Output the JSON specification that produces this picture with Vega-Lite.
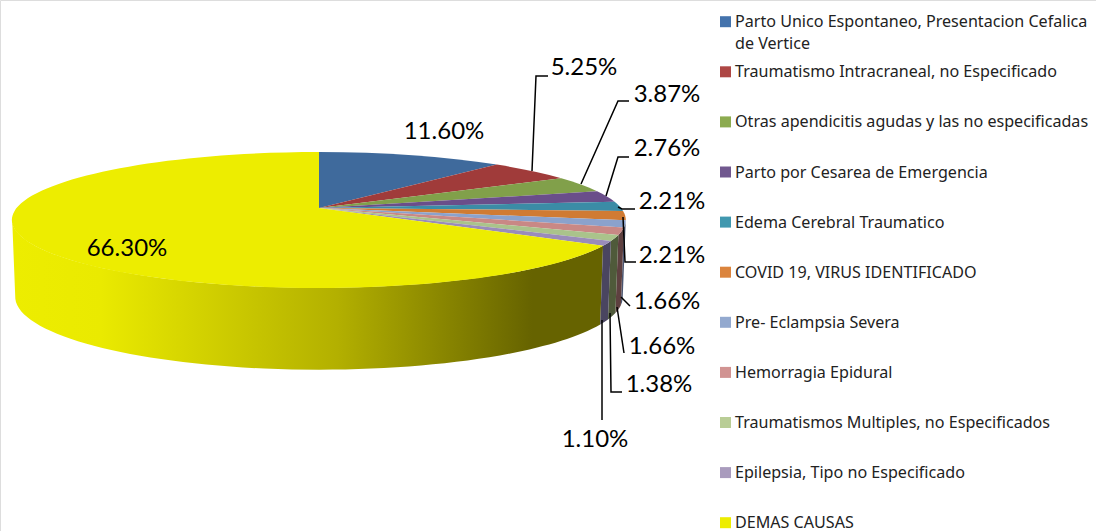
{
"$schema":"https://vega.github.io/schema/vega-lite/v6.json",
"width":1096,"height":531,"padding":0,"autosize":{"type":"none"},"background":"white",
"data":{"values":[
{"cause":"Parto Unico Espontaneo, Presentacion Cefalica de Vertice","value":11.60},
{"cause":"Traumatismo Intracraneal, no Especificado","value":5.25},
{"cause":"Otras apendicitis agudas y las no especificadas","value":3.87},
{"cause":"Parto por Cesarea de Emergencia","value":2.76},
{"cause":"Edema Cerebral Traumatico","value":2.21},
{"cause":"COVID 19, VIRUS IDENTIFICADO","value":2.21},
{"cause":"Pre- Eclampsia Severa","value":1.66},
{"cause":"Hemorragia Epidural","value":1.66},
{"cause":"Traumatismos Multiples, no Especificados","value":1.38},
{"cause":"Epilepsia, Tipo no Especificado","value":1.10},
{"cause":"DEMAS CAUSAS","value":66.30}
]},
"transform":[
{"window":[{"op":"row_number","as":"i"},{"op":"sum","field":"value","as":"cum"}]},
{"joinaggregate":[{"op":"sum","field":"value","as":"total"}]},
{"calculate":"(datum.cum-datum.value)/datum.total*2*PI","as":"a0"},
{"calculate":"datum.cum/datum.total*2*PI","as":"a1"},
{"calculate":"1+0.1765*cos(datum.a0)","as":"w0"},
{"calculate":"1+0.1765*cos(datum.a1)","as":"w1"},
{"calculate":"'M319,208L'+format(319+302*sin(datum.a0)/datum.w0,'.2f')+','+format(208-65.9*cos(datum.a0)/datum.w0,'.2f')+'A307,68 0 '+(datum.a1-datum.a0>PI?1:0)+' 1 '+format(319+302*sin(datum.a1)/datum.w1,'.2f')+','+format(208-65.9*cos(datum.a1)/datum.w1,'.2f')+'Z'","as":"slicePath"},
{"calculate":"max(datum.a0,1.772)","as":"ta"},
{"calculate":"min(datum.a1,4.511)","as":"tb"},
{"calculate":"1+0.1765*cos(datum.ta)","as":"wa"},
{"calculate":"1+0.1765*cos(datum.tb)","as":"wb"},
{"calculate":"'M'+format(319+302*sin(datum.ta)/datum.wa,'.2f')+','+format(208-65.9*cos(datum.ta)/datum.wa,'.2f')+'A307,68 0 0 1 '+format(319+302*sin(datum.tb)/datum.wb,'.2f')+','+format(208-65.9*cos(datum.tb)/datum.wb,'.2f')+'L'+format(319+299*sin(datum.tb)/datum.wb,'.2f')+','+format(284.1-70.7*cos(datum.tb)/datum.wb,'.2f')+'A304,73 0 0 0 '+format(319+299*sin(datum.ta)/datum.wa,'.2f')+','+format(284.1-70.7*cos(datum.ta)/datum.wa,'.2f')+'Z'","as":"wallPath"},
{"calculate":"['','M532,171L536,76L548,76','M581,184L618,101L629,101','M606,196L618,157L629,157','M618,207L622,209L635,209','M623,217L625,262L636,262','M621,297L630,306','M617,307L624,353','M610,313L611,392L622,392','M602,320L602,420',''][datum.i-1]","as":"leader"},
{"calculate":"[444,584,667,667,672,672,667,662,659,595,127][datum.i-1]","as":"labelX"},
{"calculate":"[132,68,95,149,202,256,302,347,385,440,249][datum.i-1]","as":"labelY"},
{"calculate":"21.7+50.1*(datum.i-1)","as":"legendY"},
{"calculate":"format(datum.value/100,'.2%')","as":"pct"},
{"calculate":"replace(datum.cause,' de Vertice','\\nde Vertice')","as":"legendText"}
],
"resolve":{"scale":{"color":"independent"}},
"layer":[
{"transform":[{"filter":"datum.i==11"}],
 "mark":{"type":"point","filled":true,"opacity":1,"size":4,"strokeWidth":0,"fill":{"x1":0,"x2":1,"y1":0,"y2":0,"gradient":"linear","stops":[{"offset":0,"color":"#EDED00"},{"offset":0.15,"color":"#EAEA00"},{"offset":0.55,"color":"#B3B000"},{"offset":0.88,"color":"#666300"},{"offset":1,"color":"#666300"}]}},
 "encoding":{"x":{"datum":0,"type":"quantitative","axis":null,"scale":{"domain":[0,1096],"range":[0,1096]}},"y":{"datum":0,"type":"quantitative","axis":null,"scale":{"domain":[0,531],"range":[0,531]}},"shape":{"field":"wallPath","type":"nominal","scale":null,"legend":null}}},
{"transform":[{"filter":"datum.i<11 && datum.a1>1.772"}],
 "mark":{"type":"point","filled":true,"opacity":1,"size":4,"strokeWidth":0},
 "encoding":{"x":{"datum":0,"type":"quantitative","axis":null,"scale":{"domain":[0,1096],"range":[0,1096]}},"y":{"datum":0,"type":"quantitative","axis":null,"scale":{"domain":[0,531],"range":[0,531]}},"shape":{"field":"wallPath","type":"nominal","scale":null,"legend":null},
 "color":{"field":"cause","type":"nominal","legend":null,"scale":{"domain":["COVID 19, VIRUS IDENTIFICADO","Pre- Eclampsia Severa","Hemorragia Epidural","Traumatismos Multiples, no Especificados","Epilepsia, Tipo no Especificado"],"range":["#6B4020","#4A5570","#5E4040","#4F5A3A","#4A4560"]}}}},
{"mark":{"type":"point","filled":true,"opacity":1,"size":4,"strokeWidth":0},
 "encoding":{"x":{"datum":0,"type":"quantitative","axis":null,"scale":{"domain":[0,1096],"range":[0,1096]}},"y":{"datum":0,"type":"quantitative","axis":null,"scale":{"domain":[0,531],"range":[0,531]}},"shape":{"field":"slicePath","type":"nominal","scale":null,"legend":null},
 "order":{"field":"i","type":"quantitative"},
 "color":{"field":"cause","type":"nominal","legend":null,"scale":{"domain":["Parto Unico Espontaneo, Presentacion Cefalica de Vertice","Traumatismo Intracraneal, no Especificado","Otras apendicitis agudas y las no especificadas","Parto por Cesarea de Emergencia","Edema Cerebral Traumatico","COVID 19, VIRUS IDENTIFICADO","Pre- Eclampsia Severa","Hemorragia Epidural","Traumatismos Multiples, no Especificados","Epilepsia, Tipo no Especificado","DEMAS CAUSAS"],"range":["#3F6A9C","#A03B3A","#81A04A","#6A4E8A","#3B8CA6","#D07B33","#8BA2CC","#C98885","#AAC38B","#9A8CBA","#EDED00"]}}}},
{"mark":{"type":"point","filled":true,"opacity":1,"size":121,"shape":"square","strokeWidth":0},
 "encoding":{"x":{"datum":725.5,"type":"quantitative","axis":null,"scale":{"domain":[0,1096],"range":[0,1096]}},"y":{"field":"legendY","type":"quantitative","axis":null,"scale":{"domain":[0,531],"range":[0,531]}},
 "color":{"field":"cause","type":"nominal","legend":null,"scale":{"domain":["Parto Unico Espontaneo, Presentacion Cefalica de Vertice","Traumatismo Intracraneal, no Especificado","Otras apendicitis agudas y las no especificadas","Parto por Cesarea de Emergencia","Edema Cerebral Traumatico","COVID 19, VIRUS IDENTIFICADO","Pre- Eclampsia Severa","Hemorragia Epidural","Traumatismos Multiples, no Especificados","Epilepsia, Tipo no Especificado","DEMAS CAUSAS"],"range":["#4473AC","#AE4745","#8CAB50","#71588F","#4198AF","#DB843D","#93A9CF","#D19392","#B9CD96","#A99BBD","#EDED00"]}}}},
{"mark":{"type":"text","align":"left","baseline":"alphabetic","font":"Noto Sans","fontSize":16.1,"color":"#222222","lineBreak":"\n","lineHeight":22},
 "encoding":{"x":{"datum":735,"type":"quantitative","axis":null,"scale":{"domain":[0,1096],"range":[0,1096]}},"y":{"field":"legendY","type":"quantitative","axis":null,"scale":{"domain":[0,531],"range":[0,531]}},"yOffset":{"value":5.5},"text":{"field":"legendText"}}},
{"transform":[{"filter":"datum.i>1 && datum.i<11"}],
 "mark":{"type":"point","filled":false,"opacity":1,"size":4,"stroke":"black","strokeWidth":1.5},
 "encoding":{"x":{"datum":0,"type":"quantitative","axis":null,"scale":{"domain":[0,1096],"range":[0,1096]}},"y":{"datum":0,"type":"quantitative","axis":null,"scale":{"domain":[0,531],"range":[0,531]}},"shape":{"field":"leader","type":"nominal","scale":null,"legend":null}}},
{"mark":{"type":"text","align":"center","baseline":"middle","font":"Lato","fontSize":24,"color":"black"},
 "encoding":{"x":{"field":"labelX","type":"quantitative","axis":null,"scale":{"domain":[0,1096],"range":[0,1096]}},"y":{"field":"labelY","type":"quantitative","axis":null,"scale":{"domain":[0,531],"range":[0,531]}},"text":{"field":"pct"}}}
]
}
